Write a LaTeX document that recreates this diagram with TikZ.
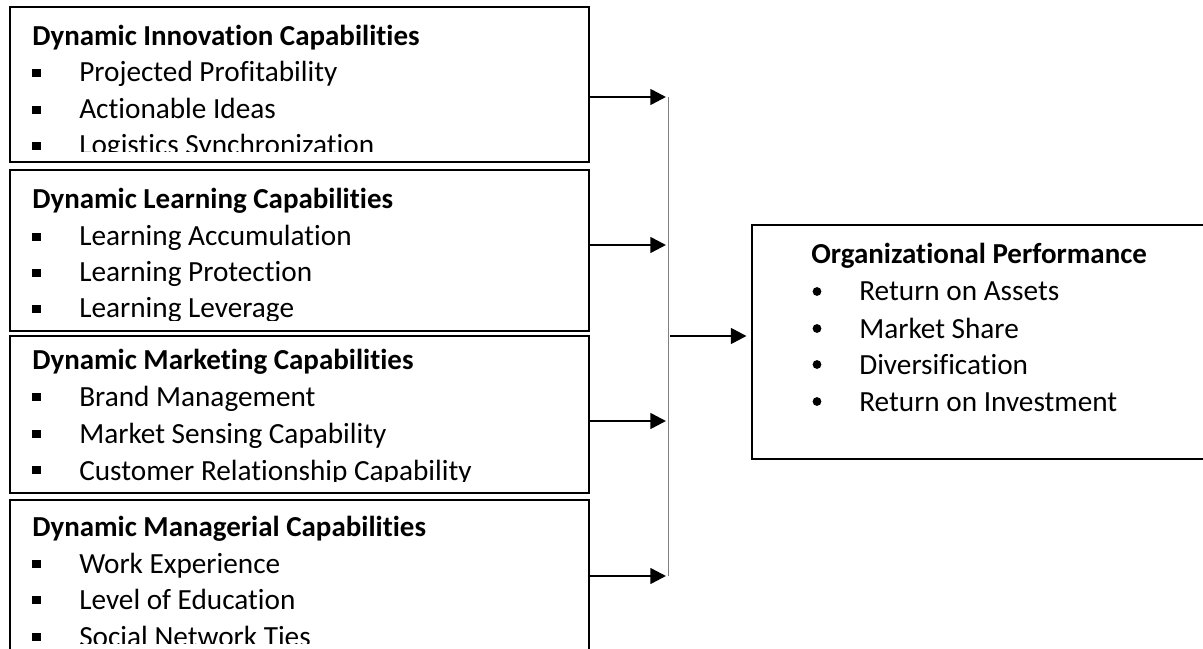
\documentclass[tikz,border=0pt]{standalone}
\usepackage{fontspec}
\setmainfont{Carlito}[Ligatures=NoCommon]
\usepackage{tikz}
\usetikzlibrary{arrows.meta}

\begin{document}
\begin{tikzpicture}[x=0.025cm, y=-0.025cm,
  capbox/.style={rectangle, draw, line width=2pt, inner sep=0pt},
  head/.style={anchor=base west, inner sep=0pt, font=\fontsize{20.6}{25}\selectfont\bfseries},
  item/.style={anchor=base west, inner sep=0pt, font=\fontsize{20.8}{25}\selectfont},
  sq/.style={rectangle, fill, inner sep=0pt, minimum size=0.2cm},
  dot/.style={circle, fill, inner sep=0pt, minimum size=0.22cm},
  arr/.style={-{Triangle[length=0.39cm, width=0.39cm]}, line width=1.8pt},
  bus/.style={draw=gray, line width=0.7pt}]

\useasboundingbox (0,0) rectangle (1203,649);

% innovation
\begin{scope}
\clip (10,7) rectangle (589,152);
\node[head] (inno) at (32,46) {Dynamic Innovation Capabilities};
\node[sq] (innosq1) at (36.5,73) {};
\node[item] (inno1) at (79,82) {Projected Profitability};
\node[sq] (innosq2) at (36.5,110) {};
\node[item] (inno2) at (79,119) {Actionable Ideas};
\node[sq] (innosq3) at (36.5,146) {};
\node[item] (inno3) at (79,155) {Logistics Synchronization};
\end{scope}
\node[capbox, minimum width=14.475cm, minimum height=3.875cm] (innobox) at (299.5,84.5) {};

% learning
\begin{scope}
\clip (10,170) rectangle (589,320);
\node[head] (learn) at (32,209) {Dynamic Learning Capabilities};
\node[sq] (learnsq1) at (36.5,237) {};
\node[item] (learn1) at (79,246) {Learning Accumulation};
\node[sq] (learnsq2) at (36.5,273) {};
\node[item] (learn2) at (79,282) {Learning Protection};
\node[sq] (learnsq3) at (36.5,309) {};
\node[item] (learn3) at (79,318) {Learning Leverage};
\end{scope}
\node[capbox, minimum width=14.475cm, minimum height=4.025cm] (learnbox) at (299.5,250.5) {};

% marketing
\begin{scope}
\clip (10,336) rectangle (589,481);
\node[head] (mark) at (32,369) {Dynamic Marketing Capabilities};
\node[sq] (marksq1) at (36.5,397) {};
\node[item] (mark1) at (79,406) {Brand Management};
\node[sq] (marksq2) at (36.5,434) {};
\node[item] (mark2) at (79,443) {Market Sensing Capability};
\node[sq] (marksq3) at (36.5,470) {};
\node[item] (mark3) at (79,480) {Customer Relationship Capability};
\end{scope}
\node[capbox, minimum width=14.475cm, minimum height=3.925cm] (markbox) at (299.5,414.5) {};

% managerial
\begin{scope}
\clip (10,500) rectangle (589,643);
\node[head] (mgmt) at (32,536) {Dynamic Managerial Capabilities};
\node[sq] (mgmtsq1) at (36.5,564) {};
\node[item] (mgmt1) at (79,573) {Work Experience};
\node[sq] (mgmtsq2) at (36.5,600) {};
\node[item] (mgmt2) at (79,609) {Level of Education};
\node[sq] (mgmtsq3) at (36.5,637) {};
\node[item] (mgmt3) at (79,646) {Social Network Ties};
\end{scope}
\node[capbox, minimum width=14.475cm, minimum height=3.9cm] (mgmtbox) at (299.5,578) {};

% performance
\node[head] (perf) at (811,264) {Organizational Performance};
\node[dot] (perfdot1) at (817,291.5) {};
\node[item] (perf1) at (859,301) {Return on Assets};
\node[dot] (perfdot2) at (817,328.5) {};
\node[item] (perf2) at (859,338) {Market Share};
\node[dot] (perfdot3) at (817,364.5) {};
\node[item] (perf3) at (859,374) {Diversification};
\node[dot] (perfdot4) at (817,401.5) {};
\node[item] (perf4) at (859,411) {Return on Investment};
\node[capbox, minimum width=11.45cm, minimum height=5.85cm] (perfbox) at (981,342) {};

% arrows into the bus
\coordinate (j1) at (666,97);
\coordinate (j2) at (666,245);
\coordinate (j3) at (666,421);
\coordinate (j4) at (666,576);
\draw[arr] (innobox.east |- j1) -- (j1);
\draw[arr] (learnbox.east |- j2) -- (j2);
\draw[arr] (markbox.east |- j3) -- (j3);
\draw[arr] (mgmtbox.east |- j4) -- (j4);

\coordinate (bustop) at (668,97);
\coordinate (busbot) at (668,576);
\draw[bus] (bustop) -- (busbot);

\coordinate (out) at (670,336);
\draw[arr, shorten >=0.1cm] (out) -- (out -| perfbox.west);

\end{tikzpicture}
\end{document}
